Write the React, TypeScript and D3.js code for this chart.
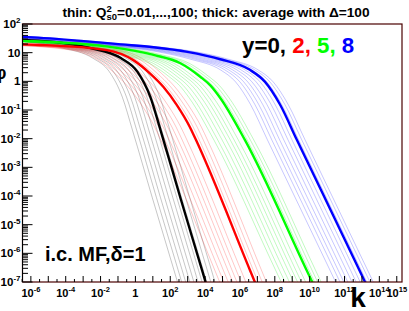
import { useEffect, useRef } from 'react';
import * as d3 from 'd3';

const W = 409;
const H = 311;
const FRAME = { left: 22.5, right: 402, top: 24, bottom: 282 };

// log10 k domain and log10 N domain of the frame
const X_DOMAIN = [-6.48, 15.3];
const Y_DOMAIN = [-7, 2];

// thick curves (average with Delta=100), [log10 k, log10 N]
const curveY0 = [[-7.3, 1.46], [-6.38, 1.44], [-5.4, 1.41], [-2.56, 1.16], [-0.84, 0.81], [0.12, 0.33], [0.86, -0.55], [1.44, -1.7], [2.58, -4.06], [3.82, -6.58], [4.6, -8.18]];
const curveY2 = [[-7.3, 1.31], [-6.38, 1.29], [-5.47, 1.27], [-1.64, 1.09], [-0.12, 0.74], [0.83, 0.28], [1.6, -0.19], [2.37, -0.82], [3.13, -1.6], [3.48, -2.05], [6.57, -6.58], [7.5, -7.95]];
const curveY5 = [[-7.3, 1.43], [-6.38, 1.41], [-1.58, 1.21], [1.04, 0.92], [2.58, 0.63], [3.72, 0.16], [4.3, -0.14], [4.87, -0.58], [6.29, -2.05], [9.82, -6.58], [11.0, -8.09]];
const curveY8 = [[-7.3, 1.57], [-6.38, 1.55], [-3.13, 1.41], [-0.84, 1.29], [1.04, 1.19], [2.98, 1.03], [4.87, 0.77], [6.57, 0.4], [7.44, -0.02], [8.29, -0.8], [9.25, -2.02], [12.85, -6.58], [14.0, -8.05]];

// thin curves (Q_s0^2 = 0.01 ... 100): shift in log10 k of each thin line against the thick one,
// read from where they cross the bottom of the frame
const shiftsY0 = [-1.61, -1.37, -1.14, -0.9, -0.67, -0.43, -0.2, 0.07, 0.3, 0.54];
const shiftsY2 = [-2.02, -1.78, -1.53, -1.27, -1.03, -0.79, -0.52, 0.19, 0.42, 0.66];
const shiftsY5 = [-1.78, -1.56, -1.31, -1.07, -0.84, -0.62, -0.38, 0.13, 0.31, 0.51];
const shiftsY8 = [-1.69, -1.44, -1.22, -0.99, -0.75, -0.51, -0.28, 0.1, 0.28, 0.47];

const GROUPS = [
	{ curve: curveY0, shifts: shiftsY0, color: '#000000', thin: 'rgba(0,0,0,0.32)' },
	{ curve: curveY2, shifts: shiftsY2, color: '#ff0000', thin: 'rgba(255,0,0,0.32)' },
	{ curve: curveY5, shifts: shiftsY5, color: '#00ff00', thin: 'rgba(0,230,0,0.35)' },
	{ curve: curveY8, shifts: shiftsY8, color: '#0000ff', thin: 'rgba(0,0,255,0.32)' },
];

const X_LABEL_EXP = [-6, -4, -2, 0, 2, 4, 6, 8, 10, 12, 14, 15];
const Y_LABEL_EXP = [2, 1, 0, -1, -2, -3, -4, -5, -6, -7];

const LEGEND = [
	{ text: 'y=0,', color: '#000000' },
	{ text: ' 2,', color: '#ff0000' },
	{ text: ' 5,', color: '#00ff00' },
	{ text: ' 8', color: '#0000ff' },
];

const FONT = 'Liberation Sans, Arial, Helvetica, sans-serif';

const App = () => {
	const ref = useRef<SVGSVGElement>(null);

	useEffect(() => {
		const svg = d3.select(ref.current);
		svg.selectAll('*').remove();

		const x = d3.scaleLinear().domain(X_DOMAIN).range([FRAME.left, FRAME.right]);
		const y = d3.scaleLinear().domain(Y_DOMAIN).range([FRAME.bottom, FRAME.top]);

		svg.append('rect').attr('width', W).attr('height', H).attr('fill', '#fff');

		svg.append('defs').append('clipPath').attr('id', 'frame-clip')
			.append('rect')
			.attr('x', FRAME.left).attr('y', FRAME.top)
			.attr('width', FRAME.right - FRAME.left).attr('height', FRAME.bottom - FRAME.top);

		const line = d3.line<number[]>()
			.x(d => x(d[0]))
			.y(d => y(d[1]))
			.curve(d3.curveMonotoneX);

		const plot = svg.append('g').attr('clip-path', 'url(#frame-clip)');

		GROUPS.forEach(g => {
			g.shifts.forEach(s => {
				plot.append('path')
					.attr('d', line(g.curve.map(p => [p[0] + s, p[1]])))
					.attr('fill', 'none')
					.attr('stroke', g.thin)
					.attr('stroke-width', 0.7);
			});
		});
		GROUPS.forEach(g => {
			plot.append('path')
				.attr('d', line(g.curve))
				.attr('fill', 'none')
				.attr('stroke', g.color)
				.attr('stroke-width', 2.4);
		});

		// frame
		svg.append('rect')
			.attr('x', FRAME.left).attr('y', FRAME.top)
			.attr('width', FRAME.right - FRAME.left).attr('height', FRAME.bottom - FRAME.top)
			.attr('fill', 'none').attr('stroke', '#4a0000').attr('stroke-width', 1.2);

		// y axis ticks
		const yAxis = svg.append('g');
		yAxis.append('line')
			.attr('x1', FRAME.left).attr('x2', FRAME.left)
			.attr('y1', FRAME.top).attr('y2', FRAME.bottom)
			.attr('stroke', '#000').attr('stroke-width', 1);
		for (let e = Y_DOMAIN[0]; e < Y_DOMAIN[1]; e++) {
			for (let m = 1; m < 10; m++) {
				const v = e + Math.log10(m);
				yAxis.append('line')
					.attr('x1', FRAME.left).attr('x2', FRAME.left + (m === 1 ? 10 : 5.5))
					.attr('y1', y(v)).attr('y2', y(v))
					.attr('stroke', '#000').attr('stroke-width', 1);
			}
		}
		yAxis.append('line')
			.attr('x1', FRAME.left).attr('x2', FRAME.left + 10)
			.attr('y1', y(2)).attr('y2', y(2))
			.attr('stroke', '#000');

		Y_LABEL_EXP.forEach(e => {
			const t = yAxis.append('text')
				.attr('x', 20.5).attr('y', y(e) + 4)
				.attr('text-anchor', 'end')
				.attr('font-family', FONT).attr('font-weight', 'bold').attr('font-size', 11.5);
			if (e === 0) t.text('1');
			else if (e === 1) t.text('10');
			else {
				t.append('tspan').text('10');
				t.append('tspan').attr('dy', -5).attr('font-size', 8).text(String(e));
			}
		});

		// x axis ticks
		const xAxis = svg.append('g');
		for (let e = -6; e <= 15; e++) {
			xAxis.append('line')
				.attr('x1', x(e)).attr('x2', x(e))
				.attr('y1', FRAME.bottom).attr('y2', FRAME.bottom - 6)
				.attr('stroke', '#000').attr('stroke-width', 1);
			xAxis.append('line')
				.attr('x1', x(e - 0.5)).attr('x2', x(e - 0.5))
				.attr('y1', FRAME.bottom).attr('y2', FRAME.bottom - 3)
				.attr('stroke', '#000').attr('stroke-width', 1);
		}
		X_LABEL_EXP.forEach(e => {
			const t = xAxis.append('text')
				.attr('x', x(e)).attr('y', 297)
				.attr('text-anchor', 'middle')
				.attr('font-family', FONT).attr('font-weight', 'bold').attr('font-size', 11);
			if (e === 0) t.text('1');
			else {
				t.append('tspan').text('10');
				t.append('tspan').attr('dy', -5).attr('font-size', 7.5).text(String(e));
			}
		});

		// axis titles
		svg.append('text')
			.attr('x', 358).attr('y', 307)
			.attr('text-anchor', 'middle')
			.attr('font-family', FONT).attr('font-weight', 'bold').attr('font-size', 28)
			.text('k');
		svg.append('text')
			.attr('x', 0).attr('y', 79)
			.attr('text-anchor', 'middle')
			.attr('font-family', FONT).attr('font-weight', 'bold').attr('font-size', 18)
			.text('\u03c6');

		// title
		const title = svg.append('text')
			.attr('x', 216).attr('y', 16.5)
			.attr('text-anchor', 'middle')
			.attr('font-family', FONT).attr('font-weight', 'bold').attr('font-size', 13.7);
		title.append('tspan').text('thin: Q');
		title.append('tspan').attr('font-size', 9.5).attr('dy', -5).text('2');
		title.append('tspan').attr('font-size', 9.5).attr('dx', -5.3).attr('dy', 8).text('s0');
		title.append('tspan').attr('dy', -3).text('=0.01,...,100; thick: average with \u0394=100');

		// legend
		const leg = svg.append('text')
			.attr('x', 242).attr('y', 53)
			.attr('font-family', FONT).attr('font-weight', 'bold').attr('font-size', 22.3);
		LEGEND.forEach(l => {
			leg.append('tspan').attr('fill', l.color).text(l.text);
		});

		svg.append('text')
			.attr('x', 45).attr('y', 261)
			.attr('font-family', FONT).attr('font-weight', 'bold').attr('font-size', 20)
			.text('i.c. MF,\u03b4=1');
	}, []);

	return (
		<svg
			ref={ref}
			width={W}
			height={H}
			style={{ position: 'absolute', left: 0, top: 0 }}
		/>
	);
};

export default App;
